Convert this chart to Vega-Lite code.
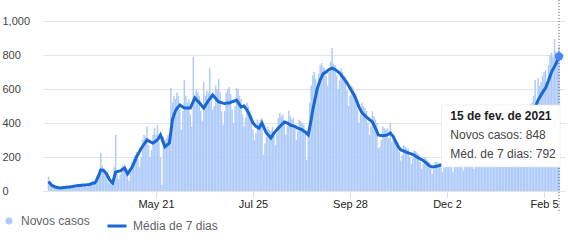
{
"$schema": "https://vega.github.io/schema/vega-lite/v6.json",
"width": 522, "height": 170,
"autosize": {"type": "none"},
"padding": {"left": 43, "top": 21, "right": 3, "bottom": 49},
"config": {"view": {"stroke": null}, "font": "Liberation Sans, Arial, sans-serif", "axis": {"labelOverlap": false}},
"datasets": {"covid": [
{"d":"2020-03-10","c":85,"a":55},{"d":"2020-03-11","c":40,"a":45},{"d":"2020-03-12","c":30,"a":35},{"d":"2020-03-13","c":25,"a":30},{"d":"2020-03-14","c":20,"a":26},{"d":"2020-03-15","c":15,"a":22},{"d":"2020-03-16","c":18,"a":21},{"d":"2020-03-17","c":22,"a":19},{"d":"2020-03-18","c":20,"a":18},{"d":"2020-03-19","c":22,"a":19},{"d":"2020-03-20","c":21,"a":20},{"d":"2020-03-21","c":18,"a":21},{"d":"2020-03-22","c":14,"a":22},{"d":"2020-03-23","c":20,"a":23},{"d":"2020-03-24","c":28,"a":24},{"d":"2020-03-25","c":30,"a":25},{"d":"2020-03-26","c":29,"a":26},{"d":"2020-03-27","c":30,"a":28},{"d":"2020-03-28","c":26,"a":30},{"d":"2020-03-29","c":20,"a":31},{"d":"2020-03-30","c":28,"a":32},{"d":"2020-03-31","c":38,"a":33},
{"d":"2020-04-01","c":40,"a":34},{"d":"2020-04-02","c":38,"a":35},{"d":"2020-04-03","c":37,"a":35},{"d":"2020-04-04","c":30,"a":36},{"d":"2020-04-05","c":22,"a":37},{"d":"2020-04-06","c":32,"a":38},{"d":"2020-04-07","c":48,"a":40},{"d":"2020-04-08","c":52,"a":44},{"d":"2020-04-09","c":55,"a":47},{"d":"2020-04-10","c":50,"a":47},{"d":"2020-04-11","c":45,"a":60},{"d":"2020-04-12","c":60,"a":80},{"d":"2020-04-13","c":110,"a":100},{"d":"2020-04-14","c":224,"a":124},{"d":"2020-04-15","c":150,"a":122},{"d":"2020-04-16","c":135,"a":120},{"d":"2020-04-17","c":120,"a":110},{"d":"2020-04-18","c":90,"a":100},{"d":"2020-04-19","c":50,"a":82},{"d":"2020-04-20","c":45,"a":65},{"d":"2020-04-21","c":60,"a":55},{"d":"2020-04-22","c":55,"a":47},{"d":"2020-04-23","c":140,"a":80},{"d":"2020-04-24","c":330,"a":112},{"d":"2020-04-25","c":100,"a":114},{"d":"2020-04-26","c":70,"a":116},{"d":"2020-04-27","c":95,"a":118},{"d":"2020-04-28","c":140,"a":124},{"d":"2020-04-29","c":150,"a":130},{"d":"2020-04-30","c":155,"a":135},
{"d":"2020-05-01","c":130,"a":118},{"d":"2020-05-02","c":80,"a":100},{"d":"2020-05-03","c":60,"a":113},{"d":"2020-05-04","c":110,"a":127},{"d":"2020-05-05","c":170,"a":140},{"d":"2020-05-06","c":190,"a":160},{"d":"2020-05-07","c":210,"a":180},{"d":"2020-05-08","c":230,"a":200},{"d":"2020-05-09","c":190,"a":217},{"d":"2020-05-10","c":140,"a":233},{"d":"2020-05-11","c":200,"a":250},{"d":"2020-05-12","c":300,"a":262},{"d":"2020-05-13","c":330,"a":275},{"d":"2020-05-14","c":320,"a":288},{"d":"2020-05-15","c":380,"a":300},{"d":"2020-05-16","c":270,"a":295},{"d":"2020-05-17","c":200,"a":290},{"d":"2020-05-18","c":240,"a":286},{"d":"2020-05-19","c":330,"a":282},{"d":"2020-05-20","c":370,"a":288},{"d":"2020-05-21","c":330,"a":294},{"d":"2020-05-22","c":390,"a":300},{"d":"2020-05-23","c":290,"a":315},{"d":"2020-05-24","c":200,"a":330},{"d":"2020-05-25","c":35,"a":307},{"d":"2020-05-26","c":320,"a":283},{"d":"2020-05-27","c":300,"a":260},{"d":"2020-05-28","c":310,"a":267},{"d":"2020-05-29","c":330,"a":275},{"d":"2020-05-30","c":290,"a":282},{"d":"2020-05-31","c":606,"a":350},
{"d":"2020-06-01","c":520,"a":418},{"d":"2020-06-02","c":560,"a":445},{"d":"2020-06-03","c":540,"a":470},{"d":"2020-06-04","c":580,"a":485},{"d":"2020-06-05","c":560,"a":495},{"d":"2020-06-06","c":480,"a":506},{"d":"2020-06-07","c":360,"a":500},{"d":"2020-06-08","c":470,"a":494},{"d":"2020-06-09","c":653,"a":488},{"d":"2020-06-10","c":560,"a":488},{"d":"2020-06-11","c":520,"a":488},{"d":"2020-06-12","c":540,"a":488},{"d":"2020-06-13","c":450,"a":488},{"d":"2020-06-14","c":380,"a":508},{"d":"2020-06-15","c":788,"a":527},{"d":"2020-06-16","c":560,"a":547},{"d":"2020-06-17","c":600,"a":538},{"d":"2020-06-18","c":580,"a":529},{"d":"2020-06-19","c":560,"a":520},{"d":"2020-06-20","c":470,"a":509},{"d":"2020-06-21","c":410,"a":498},{"d":"2020-06-22","c":641,"a":488},{"d":"2020-06-23","c":560,"a":502},{"d":"2020-06-24","c":590,"a":516},{"d":"2020-06-25","c":580,"a":530},{"d":"2020-06-26","c":723,"a":542},{"d":"2020-06-27","c":560,"a":553},{"d":"2020-06-28","c":480,"a":565},{"d":"2020-06-29","c":500,"a":555},{"d":"2020-06-30","c":620,"a":545},
{"d":"2020-07-01","c":600,"a":534},{"d":"2020-07-02","c":659,"a":524},{"d":"2020-07-03","c":580,"a":522},{"d":"2020-07-04","c":470,"a":520},{"d":"2020-07-05","c":390,"a":517},{"d":"2020-07-06","c":470,"a":515},{"d":"2020-07-07","c":580,"a":516},{"d":"2020-07-08","c":600,"a":517},{"d":"2020-07-09","c":612,"a":518},{"d":"2020-07-10","c":570,"a":521},{"d":"2020-07-11","c":480,"a":525},{"d":"2020-07-12","c":400,"a":528},{"d":"2020-07-13","c":500,"a":532},{"d":"2020-07-14","c":606,"a":535},{"d":"2020-07-15","c":600,"a":521},{"d":"2020-07-16","c":560,"a":508},{"d":"2020-07-17","c":540,"a":494},{"d":"2020-07-18","c":450,"a":497},{"d":"2020-07-19","c":380,"a":500},{"d":"2020-07-20","c":430,"a":488},{"d":"2020-07-21","c":520,"a":476},{"d":"2020-07-22","c":500,"a":458},{"d":"2020-07-23","c":470,"a":440},{"d":"2020-07-24","c":450,"a":420},{"d":"2020-07-25","c":360,"a":400},{"d":"2020-07-26","c":300,"a":390},{"d":"2020-07-27","c":340,"a":380},{"d":"2020-07-28","c":420,"a":375},{"d":"2020-07-29","c":400,"a":370},{"d":"2020-07-30","c":420,"a":385},{"d":"2020-07-31","c":430,"a":400},
{"d":"2020-08-01","c":212,"a":380},{"d":"2020-08-02","c":280,"a":360},{"d":"2020-08-03","c":320,"a":341},{"d":"2020-08-04","c":380,"a":331},{"d":"2020-08-05","c":360,"a":322},{"d":"2020-08-06","c":350,"a":312},{"d":"2020-08-07","c":380,"a":326},{"d":"2020-08-08","c":330,"a":340},{"d":"2020-08-09","c":270,"a":350},{"d":"2020-08-10","c":340,"a":360},{"d":"2020-08-11","c":430,"a":370},{"d":"2020-08-12","c":459,"a":379},{"d":"2020-08-13","c":440,"a":388},{"d":"2020-08-14","c":450,"a":397},{"d":"2020-08-15","c":400,"a":406},{"d":"2020-08-16","c":330,"a":403},{"d":"2020-08-17","c":380,"a":400},{"d":"2020-08-18","c":470,"a":394},{"d":"2020-08-19","c":440,"a":388},{"d":"2020-08-20","c":420,"a":385},{"d":"2020-08-21","c":430,"a":383},{"d":"2020-08-22","c":380,"a":380},{"d":"2020-08-23","c":300,"a":375},{"d":"2020-08-24","c":350,"a":370},{"d":"2020-08-25","c":420,"a":367},{"d":"2020-08-26","c":410,"a":363},{"d":"2020-08-27","c":400,"a":360},{"d":"2020-08-28","c":390,"a":353},{"d":"2020-08-29","c":340,"a":347},{"d":"2020-08-30","c":182,"a":338},{"d":"2020-08-31","c":350,"a":330},
{"d":"2020-09-01","c":520,"a":375},{"d":"2020-09-02","c":620,"a":420},{"d":"2020-09-03","c":680,"a":476},{"d":"2020-09-04","c":700,"a":517},{"d":"2020-09-05","c":660,"a":558},{"d":"2020-09-06","c":600,"a":600},{"d":"2020-09-07","c":690,"a":627},{"d":"2020-09-08","c":740,"a":653},{"d":"2020-09-09","c":753,"a":671},{"d":"2020-09-10","c":730,"a":690},{"d":"2020-09-11","c":720,"a":695},{"d":"2020-09-12","c":680,"a":700},{"d":"2020-09-13","c":620,"a":708},{"d":"2020-09-14","c":700,"a":715},{"d":"2020-09-15","c":760,"a":719},{"d":"2020-09-16","c":841,"a":723},{"d":"2020-09-17","c":750,"a":719},{"d":"2020-09-18","c":740,"a":715},{"d":"2020-09-19","c":680,"a":708},{"d":"2020-09-20","c":600,"a":701},{"d":"2020-09-21","c":650,"a":694},{"d":"2020-09-22","c":720,"a":683},{"d":"2020-09-23","c":700,"a":671},{"d":"2020-09-24","c":680,"a":660},{"d":"2020-09-25","c":670,"a":648},{"d":"2020-09-26","c":590,"a":635},{"d":"2020-09-27","c":500,"a":620},{"d":"2020-09-28","c":560,"a":605},{"d":"2020-09-29","c":620,"a":590},{"d":"2020-09-30","c":610,"a":576},
{"d":"2020-10-01","c":580,"a":558},{"d":"2020-10-02","c":570,"a":540},{"d":"2020-10-03","c":480,"a":517},{"d":"2020-10-04","c":400,"a":494},{"d":"2020-10-05","c":450,"a":477},{"d":"2020-10-06","c":520,"a":460},{"d":"2020-10-07","c":500,"a":452},{"d":"2020-10-08","c":488,"a":443},{"d":"2020-10-09","c":470,"a":435},{"d":"2020-10-10","c":400,"a":428},{"d":"2020-10-11","c":330,"a":420},{"d":"2020-10-12","c":380,"a":413},{"d":"2020-10-13","c":470,"a":406},{"d":"2020-10-14","c":440,"a":388},{"d":"2020-10-15","c":420,"a":370},{"d":"2020-10-16","c":400,"a":350},{"d":"2020-10-17","c":253,"a":330},{"d":"2020-10-18","c":260,"a":328},{"d":"2020-10-19","c":300,"a":327},{"d":"2020-10-20","c":380,"a":325},{"d":"2020-10-21","c":370,"a":327},{"d":"2020-10-22","c":360,"a":328},{"d":"2020-10-23","c":370,"a":330},{"d":"2020-10-24","c":310,"a":335},{"d":"2020-10-25","c":400,"a":341},{"d":"2020-10-26","c":290,"a":330},{"d":"2020-10-27","c":330,"a":320},{"d":"2020-10-28","c":320,"a":300},{"d":"2020-10-29","c":300,"a":282},{"d":"2020-10-30","c":290,"a":265},{"d":"2020-10-31","c":230,"a":253},
{"d":"2020-11-01","c":180,"a":241},{"d":"2020-11-02","c":210,"a":239},{"d":"2020-11-03","c":270,"a":235},{"d":"2020-11-04","c":260,"a":231},{"d":"2020-11-05","c":250,"a":227},{"d":"2020-11-06","c":250,"a":224},{"d":"2020-11-07","c":200,"a":221},{"d":"2020-11-08","c":160,"a":218},{"d":"2020-11-09","c":190,"a":215},{"d":"2020-11-10","c":240,"a":210},{"d":"2020-11-11","c":235,"a":205},{"d":"2020-11-12","c":225,"a":199},{"d":"2020-11-13","c":215,"a":194},{"d":"2020-11-14","c":170,"a":189},{"d":"2020-11-15","c":130,"a":185},{"d":"2020-11-16","c":160,"a":180},{"d":"2020-11-17","c":200,"a":172},{"d":"2020-11-18","c":190,"a":165},{"d":"2020-11-19","c":180,"a":158},{"d":"2020-11-20","c":170,"a":150},{"d":"2020-11-21","c":130,"a":145},{"d":"2020-11-22","c":100,"a":141},{"d":"2020-11-23","c":130,"a":142},{"d":"2020-11-24","c":170,"a":144},{"d":"2020-11-25","c":170,"a":145},{"d":"2020-11-26","c":165,"a":148},{"d":"2020-11-27","c":165,"a":150},{"d":"2020-11-28","c":140,"a":153},{"d":"2020-11-29","c":110,"a":152},{"d":"2020-11-30","c":140,"a":152},
{"d":"2020-12-01","c":175,"a":151},{"d":"2020-12-02","c":175,"a":151},{"d":"2020-12-03","c":165,"a":150},{"d":"2020-12-04","c":170,"a":153},{"d":"2020-12-05","c":140,"a":156},{"d":"2020-12-06","c":110,"a":159},{"d":"2020-12-07","c":150,"a":161},{"d":"2020-12-08","c":190,"a":164},{"d":"2020-12-09","c":195,"a":167},{"d":"2020-12-10","c":190,"a":170},{"d":"2020-12-11","c":190,"a":172},{"d":"2020-12-12","c":160,"a":174},{"d":"2020-12-13","c":120,"a":176},{"d":"2020-12-14","c":165,"a":178},{"d":"2020-12-15","c":210,"a":180},{"d":"2020-12-16","c":215,"a":182},{"d":"2020-12-17","c":205,"a":184},{"d":"2020-12-18","c":205,"a":186},{"d":"2020-12-19","c":170,"a":188},{"d":"2020-12-20","c":130,"a":190},{"d":"2020-12-21","c":175,"a":191},{"d":"2020-12-22","c":220,"a":192},{"d":"2020-12-23","c":225,"a":193},{"d":"2020-12-24","c":210,"a":194},{"d":"2020-12-25","c":160,"a":195},{"d":"2020-12-26","c":150,"a":196},{"d":"2020-12-27","c":140,"a":197},{"d":"2020-12-28","c":190,"a":198},{"d":"2020-12-29","c":235,"a":199},{"d":"2020-12-30","c":240,"a":200},{"d":"2020-12-31","c":220,"a":204},
{"d":"2021-01-01","c":150,"a":208},{"d":"2021-01-02","c":170,"a":212},{"d":"2021-01-03","c":160,"a":216},{"d":"2021-01-04","c":230,"a":220},{"d":"2021-01-05","c":270,"a":224},{"d":"2021-01-06","c":275,"a":228},{"d":"2021-01-07","c":270,"a":232},{"d":"2021-01-08","c":265,"a":236},{"d":"2021-01-09","c":220,"a":240},{"d":"2021-01-10","c":170,"a":248},{"d":"2021-01-11","c":250,"a":255},{"d":"2021-01-12","c":310,"a":263},{"d":"2021-01-13","c":320,"a":270},{"d":"2021-01-14","c":320,"a":278},{"d":"2021-01-15","c":320,"a":285},{"d":"2021-01-16","c":270,"a":293},{"d":"2021-01-17","c":210,"a":300},{"d":"2021-01-18","c":300,"a":312},{"d":"2021-01-19","c":380,"a":324},{"d":"2021-01-20","c":390,"a":336},{"d":"2021-01-21","c":400,"a":348},{"d":"2021-01-22","c":410,"a":360},{"d":"2021-01-23","c":350,"a":375},{"d":"2021-01-24","c":290,"a":390},{"d":"2021-01-25","c":400,"a":405},{"d":"2021-01-26","c":500,"a":420},{"d":"2021-01-27","c":510,"a":437},{"d":"2021-01-28","c":520,"a":453},{"d":"2021-01-29","c":560,"a":470},{"d":"2021-01-30","c":653,"a":492},{"d":"2021-01-31","c":420,"a":513},
{"d":"2021-02-01","c":665,"a":535},{"d":"2021-02-02","c":620,"a":550},{"d":"2021-02-03","c":640,"a":565},{"d":"2021-02-04","c":680,"a":580},{"d":"2021-02-05","c":700,"a":593},{"d":"2021-02-06","c":712,"a":606},{"d":"2021-02-07","c":620,"a":628},{"d":"2021-02-08","c":740,"a":650},{"d":"2021-02-09","c":800,"a":675},{"d":"2021-02-10","c":812,"a":700},{"d":"2021-02-11","c":790,"a":717},{"d":"2021-02-12","c":895,"a":733},{"d":"2021-02-13","c":820,"a":750},{"d":"2021-02-14","c":800,"a":771},{"d":"2021-02-15","c":848,"a":792}
]},
"encoding": {
 "y": {"type": "quantitative", "scale": {"domain": [0, 1000], "nice": false},
  "axis": {"title": null, "values": [0, 200, 400, 600, 800, 1000], "tickCount": 6, "format": ",d", "grid": true, "gridColor": "#e4e4e4", "gridWidth": 1, "domain": false, "ticks": false, "tickSize": 0, "labelAlign": "left", "labelPadding": 41, "labelFontSize": 11, "labelColor": "#444444", "labelOverlap": false, "labelBound": false, "labelFlush": false}}
},
"layer": [
{"data": {"name": "covid"},
 "mark": {"type": "bar", "size": 1.5},
 "encoding": {
  "x": {"field": "d", "type": "temporal",
   "scale": {"type": "utc", "domain": [{"year": 2020, "month": 3, "date": 9, "hours": 16, "utc": true}, {"year": 2021, "month": 2, "date": 15, "hours": 16, "utc": true}]},
   "axis": {"title": null, "values": [{"year": 2020, "month": 5, "date": 21, "utc": true}, {"year": 2020, "month": 7, "date": 25, "utc": true}, {"year": 2020, "month": 9, "date": 28, "utc": true}, {"year": 2020, "month": 12, "date": 2, "utc": true}, {"year": 2021, "month": 2, "date": 5, "utc": true}],
    "format": "%b %-d", "grid": false, "domain": false, "ticks": true, "tickColor": "#dddddd", "tickSize": 7, "labelPadding": 0, "labelFontSize": 11, "labelColor": "#222222", "labelFlush": false, "labelOverlap": false}},
  "y": {"field": "c"},
  "color": {"datum": "Novos casos", "scale": {"domain": ["Novos casos"], "range": ["#aecbfa"]},
   "legend": {"title": null, "orient": "none", "legendX": -40, "legendY": 194, "symbolType": "circle", "symbolSize": 50, "symbolOpacity": 1, "labelFontSize": 12, "labelColor": "#5f6368", "labelOffset": 6, "padding": 0}}
 }},
{"data": {"name": "covid"},
 "mark": {"type": "line", "strokeWidth": 3, "interpolate": "linear"},
 "encoding": {
  "x": {"field": "d", "type": "temporal"},
  "y": {"field": "a"},
  "stroke": {"datum": "Média de 7 dias", "scale": {"domain": ["Média de 7 dias"], "range": ["#1967d2"]},
   "legend": {"title": null, "orient": "none", "legendX": 63, "legendY": 194, "symbolType": "stroke", "symbolSize": 361, "symbolStrokeWidth": 3, "labelFontSize": 12, "labelColor": "#5f6368", "labelOffset": 5, "padding": 0}}
 }},
{"data": {"values": [{}]},
 "mark": {"type": "rule", "strokeDash": [1, 2], "color": "#555555", "strokeWidth": 1},
 "encoding": {"x": {"datum": {"year": 2021, "month": 2, "date": 15, "utc": true}, "type": "temporal"}, "y": {"datum": 1124}, "y2": {"datum": -124}}},
{"data": {"values": [{}]},
 "mark": {"type": "rect", "fill": "#000000", "opacity": 0.15, "xOffset": 1, "yOffset": 2},
 "encoding": {"x": {"datum": {"year": 2020, "month": 11, "date": 28, "hours": 7, "utc": true}, "type": "temporal"}, "x2": {"datum": {"year": 2021, "month": 2, "date": 15, "hours": 18, "utc": true}}, "y": {"datum": 506}, "y2": {"datum": 141}}},
{"data": {"values": [{}]},
 "mark": {"type": "rect", "fill": "#ffffff", "stroke": "#e3e3e3", "strokeWidth": 0.5},
 "encoding": {"x": {"datum": {"year": 2020, "month": 11, "date": 28, "hours": 7, "utc": true}, "type": "temporal"}, "x2": {"datum": {"year": 2021, "month": 2, "date": 15, "hours": 18, "utc": true}}, "y": {"datum": 506}, "y2": {"datum": 141}}},
{"data": {"values": [{}]},
 "mark": {"type": "text", "text": "15 de fev. de 2021", "fontWeight": "bold", "fontSize": 12, "align": "left", "baseline": "middle", "color": "#202124"},
 "encoding": {"x": {"datum": {"year": 2020, "month": 12, "date": 4, "hours": 5, "utc": true}, "type": "temporal"}, "y": {"datum": 441}}},
{"data": {"values": [{}]},
 "mark": {"type": "text", "text": "Novos casos: 848", "fontSize": 12, "align": "left", "baseline": "middle", "color": "#444444"},
 "encoding": {"x": {"datum": {"year": 2020, "month": 12, "date": 4, "hours": 5, "utc": true}, "type": "temporal"}, "y": {"datum": 329}}},
{"data": {"values": [{}]},
 "mark": {"type": "text", "text": "Méd. de 7 dias: 792", "fontSize": 12, "align": "left", "baseline": "middle", "color": "#444444"},
 "encoding": {"x": {"datum": {"year": 2020, "month": 12, "date": 4, "hours": 5, "utc": true}, "type": "temporal"}, "y": {"datum": 218}}},
{"data": {"values": [{}]},
 "mark": {"type": "point", "filled": true, "size": 70, "color": "#4285f4", "opacity": 1},
 "encoding": {"x": {"datum": {"year": 2021, "month": 2, "date": 15, "utc": true}, "type": "temporal"}, "y": {"datum": 792}}}
]
}
